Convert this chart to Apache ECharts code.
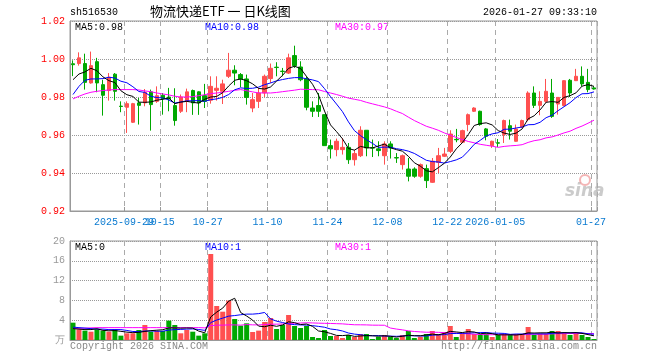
<!DOCTYPE html>
<html><head><meta charset="utf-8">
<script src="https://cdn.jsdelivr.net/npm/echarts@6/dist/echarts.min.js"></script>
<style>html,body{margin:0;padding:0;background:#fff}#c{width:660px;height:360px}</style>
</head><body><div id="c"></div>
<script>
// ---------- data ----------
const dates = ['2025-09-16','2025-09-17','2025-09-18','2025-09-19','2025-09-22','2025-09-23','2025-09-24','2025-09-25','2025-09-26','2025-09-29',
'2025-09-30','2025-10-09','2025-10-10','2025-10-13','2025-10-14','2025-10-15','2025-10-16','2025-10-17','2025-10-20','2025-10-21',
'2025-10-22','2025-10-23','2025-10-24','2025-10-27','2025-10-28','2025-10-29','2025-10-30','2025-10-31','2025-11-03','2025-11-04',
'2025-11-05','2025-11-06','2025-11-07','2025-11-10','2025-11-11','2025-11-12','2025-11-13','2025-11-14','2025-11-17','2025-11-18',
'2025-11-19','2025-11-20','2025-11-21','2025-11-24','2025-11-25','2025-11-26','2025-11-27','2025-11-28','2025-12-01','2025-12-02',
'2025-12-03','2025-12-04','2025-12-05','2025-12-08','2025-12-09','2025-12-10','2025-12-11','2025-12-12','2025-12-15','2025-12-16',
'2025-12-17','2025-12-18','2025-12-19','2025-12-22','2025-12-23','2025-12-24','2025-12-25','2025-12-26','2025-12-29','2025-12-30',
'2025-12-31','2026-01-05','2026-01-06','2026-01-07','2026-01-08','2026-01-09','2026-01-12','2026-01-13','2026-01-14','2026-01-15',
'2026-01-16','2026-01-19','2026-01-20','2026-01-21','2026-01-22','2026-01-23','2026-01-26','2026-01-27'];

const opens = [0.9975,0.9976,0.9976,0.9874,0.9986,0.9865,0.9834,0.9920,0.9752,0.9746,
0.9667,0.9769,0.9769,0.9827,0.9777,0.9809,0.9800,0.9755,0.9725,0.9777,
0.9834,0.9827,0.9807,0.9783,0.9835,0.9830,0.9909,0.9941,0.9918,0.9895,
0.9742,0.9777,0.9821,0.9897,0.9957,0.9936,0.9926,1.0018,0.9958,0.9895,
0.9742,0.9755,0.9707,0.9544,0.9523,0.9523,0.9535,0.9470,0.9491,0.9625,
0.9533,0.9527,0.9491,0.9553,0.9481,0.9444,0.9421,0.9421,0.9383,0.9423,
0.9351,0.9456,0.9488,0.9514,0.9577,0.9562,0.9655,0.9725,0.9725,0.9632,
0.9544,0.9559,0.9602,0.9649,0.9567,0.9642,0.9681,0.9821,0.9756,0.9777,
0.9821,0.9763,0.9755,0.9888,0.9886,0.9909,0.9877,0.9848];

const closes = [0.9970,1.0006,0.9877,0.9965,0.9874,0.9809,0.9904,0.9830,0.9750,0.9765,
0.9765,0.9756,0.9825,0.9760,0.9807,0.9791,0.9790,0.9676,0.9800,0.9827,
0.9769,0.9769,0.9777,0.9856,0.9846,0.9869,0.9941,0.9926,0.9895,0.9798,
0.9786,0.9821,0.9909,0.9951,0.9955,0.9934,1.0006,0.9965,0.9891,0.9746,
0.9725,0.9725,0.9544,0.9527,0.9567,0.9535,0.9470,0.9502,0.9625,0.9532,
0.9531,0.9518,0.9553,0.9532,0.9479,0.9491,0.9383,0.9383,0.9444,0.9360,
0.9462,0.9491,0.9500,0.9605,0.9575,0.9623,0.9707,0.9742,0.9655,0.9593,
0.9567,0.9557,0.9676,0.9620,0.9632,0.9676,0.9821,0.9756,0.9777,0.9830,
0.9698,0.9798,0.9886,0.9821,0.9909,0.9869,0.9839,0.9842];

const lows = [0.9910,0.9965,0.9839,0.9870,0.9825,0.9702,0.9781,0.9781,0.9720,0.9611,
0.9663,0.9655,0.9751,0.9623,0.9769,0.9707,0.9725,0.9649,0.9716,0.9720,
0.9706,0.9706,0.9742,0.9765,0.9781,0.9763,0.9900,0.9862,0.9851,0.9760,
0.9720,0.9742,0.9800,0.9874,0.9909,0.9909,0.9921,0.9953,0.9883,0.9730,
0.9695,0.9695,0.9544,0.9476,0.9488,0.9497,0.9448,0.9439,0.9484,0.9488,
0.9484,0.9488,0.9444,0.9476,0.9453,0.9418,0.9356,0.9375,0.9375,0.9321,
0.9348,0.9400,0.9484,0.9505,0.9562,0.9558,0.9620,0.9721,0.9649,0.9572,
0.9532,0.9537,0.9558,0.9576,0.9565,0.9637,0.9672,0.9742,0.9704,0.9769,
0.9690,0.9707,0.9751,0.9800,0.9884,0.9856,0.9825,0.9839];

const highs = [0.9993,1.0035,1.0028,1.0039,1.0006,0.9891,0.9926,0.9926,0.9777,0.9777,
0.9769,0.9795,0.9842,0.9839,0.9856,0.9821,0.9848,0.9846,0.9813,0.9844,
0.9839,0.9830,0.9869,0.9909,0.9909,0.9891,1.0032,0.9967,0.9926,0.9918,
0.9821,0.9848,0.9918,0.9976,0.9983,0.9953,1.0028,1.0070,0.9988,0.9909,
0.9777,0.9821,0.9707,0.9576,0.9581,0.9584,0.9558,0.9523,0.9646,0.9625,
0.9576,0.9567,0.9567,0.9567,0.9505,0.9497,0.9479,0.9430,0.9450,0.9444,
0.9479,0.9532,0.9532,0.9625,0.9632,0.9628,0.9713,0.9746,0.9728,0.9637,
0.9570,0.9579,0.9681,0.9681,0.9655,0.9681,0.9830,0.9856,0.9830,0.9895,
0.9895,0.9800,0.9888,0.9895,0.9948,0.9961,0.9948,0.9856];

const volumes = [3.50,2.15,1.89,1.68,2.15,1.89,1.68,2.15,0.88,1.35,
1.35,2.02,3.03,1.68,1.82,1.82,3.91,3.03,1.35,2.02,
1.68,0.88,1.35,17.37,6.87,5.72,7.95,4.24,2.90,3.37,
1.62,1.89,3.64,4.44,2.22,3.03,5.05,2.83,2.42,2.83,
0.61,0.40,2.02,0.81,0.81,0.40,1.01,0.61,1.21,1.21,
0.20,0.67,1.01,0.67,0.40,1.01,1.82,0.40,0.67,1.21,
1.82,1.21,1.62,2.83,0.61,1.21,2.22,1.21,1.01,1.35,
0.61,1.01,1.21,1.01,1.21,1.21,2.63,1.01,1.21,1.21,
1.82,1.82,1.41,1.01,1.41,1.01,0.61,0.20];

const ma5Lead = [0.9891,0.9921,0.9932,0.9951];
const ma10Lead = [0.9813,0.9856,0.9888,0.9895,0.9895,0.9897,0.9904,0.9900,0.9883];
const ma30Lead = [0.9790,0.9804,0.9816,0.9825,0.9830,0.9834,0.9837,0.9839,0.9839,0.9839,
0.9839,0.9837,0.9832,0.9828,0.9821,0.9816,0.9811,0.9804,0.9800,0.9800,
0.9802,0.9807,0.9812,0.9818,0.9821,0.9825,0.9830,0.9835,0.9839];
const volMa5Lead = [2.3,2.2,2.1,2.1];
const volMa10Lead = [2.6,2.5,2.4,2.3,2.2,2.2,2.1,2.1,2.1];
const volMa30Lead = [2.3,2.35,2.4,2.45,2.5,2.5,2.5,2.5,2.5,2.5,
2.5,2.5,2.5,2.5,2.5,2.5,2.5,2.5,2.5,2.5,
2.5,2.5,2.45,2.9,3.0,3.0,3.05,3.05,3.0];

const labelDates = ['2025-09-29','2025-10-15','2025-10-27','2025-11-10','2025-11-24','2025-12-08','2025-12-22','2026-01-05','2026-01-27'];
const fullYearLabels = ['2025-09-29','2026-01-05'];
const priceTicks = [0.92,0.94,0.96,0.98,1.00,1.02];
const volTicks = [0,4,8,12,16,20];
const volUnit = '万';
const code = 'sh516530';
const chartTitle = '物流快递ETF 一 日K线图';
const stamp = '2026-01-27 09:33:10';
const priceLegend = ['MA5:0.98','MA10:0.98','MA30:0.97'];
const volLegend = ['MA5:0','MA10:1','MA30:1'];
const footLeft = 'Copyright 2026 SINA.COM';
const footRight = 'http://finance.sina.com.cn';

// ---------- build ----------
function movingAvg(vals, n, lead, dp) {
  return vals.map((v, i) => {
    if (i < n - 1) return lead[i];
    let s = 0;
    for (let j = i - n + 1; j <= i; j++) s += vals[j];
    return +(s / n).toFixed(dp);
  });
}
const UP = '#ff5050', DOWN = '#00a800';
const isUp = i => closes[i] > opens[i] || (closes[i] === opens[i] && i > 0 && closes[i] >= closes[i-1]);
const kData = dates.map((d, i) => [opens[i], closes[i], lows[i], highs[i]]);
const volData = volumes.map((v, i) => ({value: v, itemStyle: {color: isUp(i) ? UP : DOWN}}));
const labelIdx = labelDates.map(d => dates.indexOf(d));
const showAt = (i) => labelIdx.includes(i);
// first label overlaps the second one in the original; draw it on its own axis so it is not dropped
const showMain = (i) => labelIdx.indexOf(i) > 0;
const showFirst = (i) => i === labelIdx[0];
const MONO = 'Liberation Mono, DejaVu Sans Mono, monospace';
const fmtDate = v => fullYearLabels.includes(v) ? v : v.slice(5);

const chart = echarts.init(document.getElementById('c'), null, {renderer: 'canvas'});
const vSplit = {show: true, interval: showAt, lineStyle: {color: '#aaa', type: [5, 4], width: 1}};
const labelStyle = {color: '#0a7ad0', fontFamily: MONO, fontSize: 10, margin: 6, padding: [0, 6, 0, 0], formatter: fmtDate};
chart.setOption({
  animation: false,
  backgroundColor: '#fff',
  grid: [
    {left: 70, top: 21, width: 527, height: 190, show: true, borderColor: '#999', borderWidth: 1},
    {left: 70, top: 241, width: 527, height: 99, show: true, borderColor: '#999', borderWidth: 1}
  ],
  xAxis: [
    {type: 'category', gridIndex: 0, data: dates, boundaryGap: true,
     axisLine: {lineStyle: {color: '#999'}},
     axisTick: {show: true, inside: true, length: 4, interval: showAt, lineStyle: {color: '#999'}},
     axisLabel: Object.assign({interval: showMain}, labelStyle),
     splitLine: vSplit},
    {type: 'category', gridIndex: 1, data: dates, boundaryGap: true,
     axisLine: {lineStyle: {color: '#999'}}, axisTick: {show: false}, axisLabel: {show: false},
     splitLine: vSplit},
    {type: 'category', gridIndex: 0, position: 'bottom', data: dates, boundaryGap: true,
     axisLine: {show: false}, axisTick: {show: false}, splitLine: {show: false},
     axisLabel: Object.assign({interval: showFirst}, labelStyle)}
  ],
  yAxis: [
    {type: 'value', gridIndex: 0, min: priceTicks[0], max: priceTicks[priceTicks.length-1], interval: 0.02,
     axisLine: {show: true, lineStyle: {color: '#999'}}, axisTick: {show: false},
     axisLabel: {color: '#ff0000', fontFamily: MONO, fontSize: 10, margin: 5, formatter: v => v.toFixed(2)},
     splitLine: {lineStyle: {color: '#999', type: 'dotted'}}},
    {type: 'value', gridIndex: 1, min: volTicks[0], max: volTicks[volTicks.length-1], interval: 4,
     axisLine: {show: true, lineStyle: {color: '#999'}}, axisTick: {show: false},
     axisLabel: {color: '#999', fontFamily: MONO, fontSize: 10, margin: 5, formatter: v => v === 0 ? volUnit : String(v)},
     splitLine: {lineStyle: {color: '#999', type: 'dotted'}}}
  ],
  series: [
    {type: 'candlestick', xAxisIndex: 0, yAxisIndex: 0, data: kData, barWidth: 4,
     itemStyle: {color: UP, color0: DOWN, borderColor: UP, borderColor0: DOWN, borderWidth: 1}},
    {type: 'line', xAxisIndex: 0, yAxisIndex: 0, data: movingAvg(closes, 30, ma30Lead, 4), symbol: 'none', lineStyle: {color: '#ff00ff', width: 1}, z: 3},
    {type: 'line', xAxisIndex: 0, yAxisIndex: 0, data: movingAvg(closes, 10, ma10Lead, 4), symbol: 'none', lineStyle: {color: '#0000ff', width: 1}, z: 3},
    {type: 'line', xAxisIndex: 0, yAxisIndex: 0, data: movingAvg(closes, 5, ma5Lead, 4), symbol: 'none', lineStyle: {color: '#000', width: 1}, z: 3},
    {type: 'bar', xAxisIndex: 1, yAxisIndex: 1, data: volData, barWidth: 5},
    {type: 'line', xAxisIndex: 1, yAxisIndex: 1, data: movingAvg(volumes, 30, volMa30Lead, 2), symbol: 'none', lineStyle: {color: '#ff00ff', width: 1}, z: 3},
    {type: 'line', xAxisIndex: 1, yAxisIndex: 1, data: movingAvg(volumes, 10, volMa10Lead, 2), symbol: 'none', lineStyle: {color: '#0000ff', width: 1}, z: 3},
    {type: 'line', xAxisIndex: 1, yAxisIndex: 1, data: movingAvg(volumes, 5, volMa5Lead, 2), symbol: 'none', lineStyle: {color: '#000', width: 1}, z: 3}
  ],
  graphic: [
    {type: 'text', left: 70, top: 7, style: {text: code, font: '10px ' + MONO, fill: '#000'}},
    {type: 'text', left: 150, top: 5, style: {text: chartTitle, font: '13px "Noto Sans CJK SC"', fill: '#000'}},
    {type: 'text', right: 63, top: 7, style: {text: stamp, font: '10px ' + MONO, fill: '#000'}},
    {type: 'text', left: 75, top: 22, style: {text: priceLegend[0], font: '10px ' + MONO, fill: '#000'}},
    {type: 'text', left: 205, top: 22, style: {text: priceLegend[1], font: '10px ' + MONO, fill: '#0000ff'}},
    {type: 'text', left: 335, top: 22, style: {text: priceLegend[2], font: '10px ' + MONO, fill: '#ff00ff'}},
    {type: 'text', left: 75, top: 242, style: {text: volLegend[0], font: '10px ' + MONO, fill: '#000'}},
    {type: 'text', left: 205, top: 242, style: {text: volLegend[1], font: '10px ' + MONO, fill: '#0000ff'}},
    {type: 'text', left: 335, top: 242, style: {text: volLegend[2], font: '10px ' + MONO, fill: '#ff00ff'}},
    {type: 'text', left: 70, top: 341, style: {text: footLeft, font: '10px ' + MONO, fill: '#888'}},
    {type: 'text', right: 63, top: 341, style: {text: footRight, font: '10px ' + MONO, fill: '#888'}},
    {type: 'text', left: 565, top: 183, style: {text: 'sina', font: 'italic bold 17px "DejaVu Sans"', fill: 'rgba(190,190,190,0.8)'}},
    {type: 'circle', shape: {cx: 585, cy: 180, r: 5}, style: {fill: 'none', stroke: 'rgba(240,150,150,0.7)', lineWidth: 2}}
  ]
});
</script></body></html>
